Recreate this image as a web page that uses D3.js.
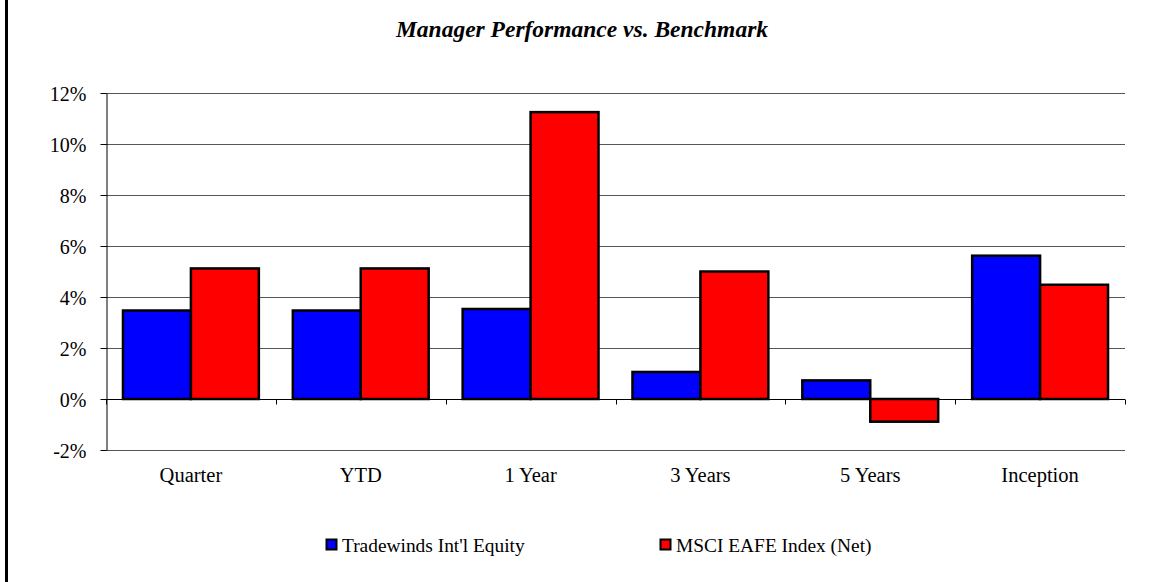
<html>
<head>
<script src="https://d3js.org/d3.v7.min.js"></script>
<style>
  body { margin: 0; background: #fff; }
  svg text { font-family: "Liberation Serif", "Times New Roman", serif; fill: #000; }
</style>
</head>
<body>
<div id="chart"></div>
<script>
var categories = ["Quarter", "YTD", "1 Year", "3 Years", "5 Years", "Inception"];
var seriesNames = ["Tradewinds Int'l Equity", "MSCI EAFE Index (Net)"];
var managerValues = [3.47, 3.47, 3.53, 1.06, 0.73, 5.62];
var benchmarkValues = [5.12, 5.12, 11.25, 5.0, -0.89, 4.48];
var yTicks = [-2, 0, 2, 4, 6, 8, 10, 12];
var colors = ["#0000ff", "#ff0000"];

var W = 1151, H = 582;
var margin = {top: 93, right: 26, bottom: 132, left: 106};
var width = W - margin.left - margin.right,
    height = H - margin.top - margin.bottom;

var svg = d3.select("#chart").append("svg")
    .attr("width", W).attr("height", H);

// left border
svg.append("rect").attr("x", 5).attr("y", 0).attr("width", 3).attr("height", H).attr("fill", "#000");

svg.append("text")
    .attr("x", 582).attr("y", 37)
    .attr("text-anchor", "middle")
    .style("font-size", "23.5px").style("font-weight", "bold").style("font-style", "italic")
    .text("Manager Performance vs. Benchmark");

var g = svg.append("g").attr("transform", "translate(" + margin.left + "," + margin.top + ")");

var x = d3.scaleBand().domain(categories).range([0, width]);
var xInner = d3.scaleBand().domain([0, 1]).range([0, x.bandwidth()]).paddingOuter(0.25).paddingInner(0);
var y = d3.scaleLinear().domain([-2, 12]).range([height, 0]);

// gridlines
g.selectAll(".grid").data(yTicks).enter().append("line")
    .attr("x1", 0).attr("x2", width)
    .attr("y1", function(d) { return y(d) + 0.5; })
    .attr("y2", function(d) { return y(d) + 0.5; })
    .attr("stroke", "#555").attr("stroke-width", 1);

// y axis
var yAxis = g.append("g").attr("transform", "translate(0.5,0)")
    .call(d3.axisLeft(y).tickValues(yTicks).tickSize(6).tickSizeOuter(0).tickPadding(14)
        .tickFormat(function(d) { return d + "%"; }));
yAxis.attr("font-family", null);
yAxis.select(".domain").attr("stroke", "#000");
yAxis.selectAll(".tick line").attr("stroke", "#000");
yAxis.selectAll("text").style("font-size", "20px").attr("dy", "0.35em");

// bars
var groups = g.selectAll(".cat").data(categories).enter().append("g")
    .attr("transform", function(d) { return "translate(" + x(d) + ",0)"; });

groups.selectAll("rect").data(function(d, i) {
        return [{s: 0, v: managerValues[i]}, {s: 1, v: benchmarkValues[i]}];
    }).enter().append("rect")
    .attr("x", function(d) { return xInner(d.s); })
    .attr("y", function(d) { return y(Math.max(0, d.v)); })
    .attr("width", xInner.bandwidth())
    .attr("height", function(d) { return Math.abs(y(d.v) - y(0)); })
    .attr("fill", function(d) { return colors[d.s]; })
    .attr("stroke", "#000").attr("stroke-width", 2.5);

// x axis at zero
var xAxis = g.append("g").attr("transform", "translate(0," + (y(0) + 0.5) + ")");
xAxis.append("line").attr("x1", 0).attr("x2", width).attr("stroke", "#000");
xAxis.selectAll(".xt").data(d3.range(categories.length + 1)).enter().append("line")
    .attr("x1", function(i) { return Math.round(i * x.step()) + 0.5; })
    .attr("x2", function(i) { return Math.round(i * x.step()) + 0.5; })
    .attr("y1", 0).attr("y2", 5).attr("stroke", "#000");

// category labels
g.selectAll(".cl").data(categories).enter().append("text")
    .attr("x", function(d) { return x(d) + x.bandwidth() / 2; })
    .attr("y", height + 32)
    .attr("text-anchor", "middle")
    .style("font-size", "20.5px")
    .text(function(d) { return d; });

// legend
var legendX = [326, 660];
var legend = svg.selectAll(".lg").data(seriesNames).enter().append("g")
    .attr("transform", function(d, i) { return "translate(" + legendX[i] + ",539)"; });
legend.append("rect").attr("x", 0.5).attr("y", 0.5).attr("width", 10).attr("height", 10)
    .attr("fill", function(d, i) { return colors[i]; })
    .attr("stroke", "#000").attr("stroke-width", 2);
legend.append("text").attr("x", 16).attr("y", 12.5)
    .style("font-size", "19.4px")
    .text(function(d) { return d; });
</script>
</body>
</html>
